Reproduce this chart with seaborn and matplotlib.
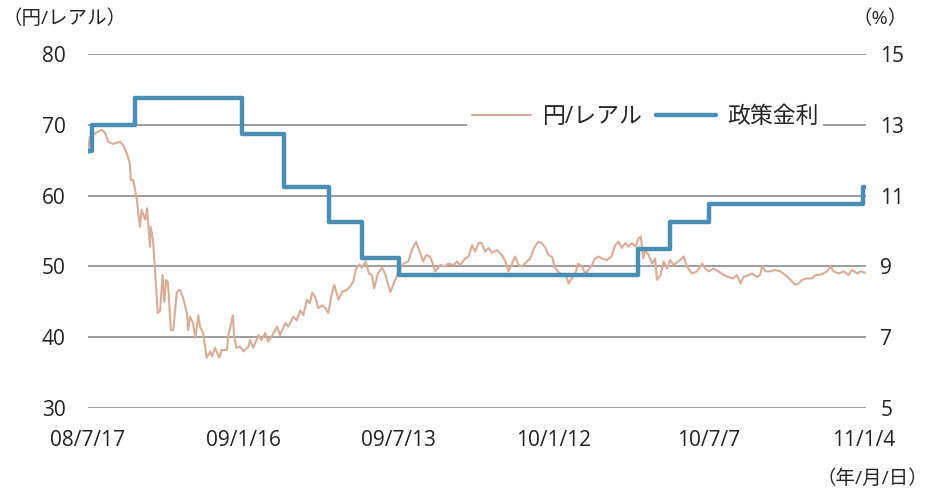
import matplotlib.pyplot as plt
import pandas as pd
import seaborn as sns

# yen / real, x is week number counted from 2008-07-17
yen_week = [
    0.0, 0.3, 1.2, 2.3, 2.9, 3.4, 4.2, 5.4, 5.9, 6.5, 7.0, 7.2, 7.6, 7.9, 8.2,
    8.7, 9.0, 9.6, 9.9, 10.4, 10.5, 10.9, 11.2, 11.7, 12.1, 12.5, 12.8, 13.1,
    13.4, 13.9, 14.3, 14.9, 15.4, 15.9, 16.6, 16.8, 17.1, 17.6, 18.0, 18.5,
    18.8, 19.3, 19.9, 20.5, 20.8, 21.3, 22.0, 22.4, 23.3, 23.5, 24.3, 24.5,
    24.9, 25.5, 26.1, 26.9, 27.2, 27.7, 28.6, 29.1, 29.7, 30.2, 30.8, 31.7,
    32.2, 33.1, 33.6, 34.4, 35.0, 35.6, 36.1, 36.7, 37.2, 37.6, 38.1, 38.6,
    39.3, 39.8, 40.3, 40.9, 41.3, 42.0, 42.6, 43.4, 44.0, 44.5, 44.9, 45.5,
    45.9, 46.6, 47.1, 47.6, 48.0, 48.6, 49.3, 49.8, 50.7, 51.5, 52.3, 52.9,
    53.7, 54.3, 55.0, 55.6, 56.2, 56.7, 57.3, 57.7, 58.2, 59.1, 59.9, 60.4,
    61.3, 61.9, 62.4, 63.2, 63.8, 64.4, 64.9, 65.5, 66.0, 66.6, 67.2, 67.7,
    68.6, 69.4, 70.0, 70.5, 71.1, 71.6, 72.2, 72.8, 73.6, 74.1, 74.8, 75.5,
    76.1, 76.7, 77.2, 77.8, 78.3, 78.9, 79.5, 80.0, 80.6, 81.1, 81.7, 82.2,
    82.8, 83.4, 83.9, 84.5, 85.0, 85.6, 86.2, 87.0, 87.8, 88.4, 89.0, 89.5,
    90.1, 90.6, 91.2, 91.8, 92.3, 92.7, 93.1, 93.4, 94.0, 94.6, 95.1, 95.4,
    96.0, 96.5, 97.1, 97.6, 98.2, 99.0, 99.9, 100.4, 101.3, 102.1, 103.0,
    103.5, 104.1, 104.9, 105.7, 106.6, 107.4, 108.2, 108.8, 109.4, 109.9,
    110.8, 111.3, 112.2, 112.7, 113.0, 113.6, 114.4, 115.2, 116.1, 116.9,
    117.8, 118.6, 119.2, 119.7, 120.6, 121.4, 122.0, 122.5, 123.3, 123.9,
    124.5, 125.0, 125.9, 126.7, 127.5, 128.1, 129.0, 129.5, 130.3,
]
yen_rate = [
    66.0, 68.3, 68.8, 69.3, 68.8, 67.6, 67.3, 67.6, 67.1, 66.0, 64.6, 62.2,
    62.2, 60.8, 59.4, 55.6, 58.0, 56.6, 58.2, 52.8, 55.6, 53.7, 50.0, 43.4,
    43.8, 48.8, 45.0, 48.1, 47.8, 41.0, 41.0, 46.4, 46.7, 45.7, 43.4, 41.0,
    42.9, 42.0, 39.9, 43.1, 41.5, 40.6, 37.1, 38.0, 37.3, 38.5, 37.1, 38.2,
    38.2, 40.1, 43.1, 40.1, 38.5, 38.7, 38.0, 38.7, 39.6, 38.5, 40.3, 39.6,
    40.6, 39.4, 40.1, 41.5, 40.3, 42.0, 41.5, 42.9, 42.4, 43.8, 43.1, 45.3,
    44.8, 46.3, 45.7, 44.1, 44.5, 44.1, 43.4, 46.2, 47.4, 45.3, 46.4, 46.7,
    47.2, 47.9, 49.6, 50.3, 49.8, 50.7, 49.0, 48.8, 46.9, 49.0, 49.8, 49.0,
    46.4, 48.1, 49.7, 50.4, 50.7, 52.3, 53.5, 52.1, 50.7, 51.6, 51.4, 50.7,
    49.3, 50.2, 50.0, 50.4, 50.2, 50.7, 50.2, 51.1, 51.4, 53.0, 52.1, 53.3,
    53.3, 52.1, 52.6, 51.9, 52.3, 51.6, 50.7, 49.3, 50.4, 51.4, 50.2, 50.0,
    50.7, 51.1, 52.6, 53.5, 53.3, 52.6, 51.6, 51.4, 49.8, 49.2, 48.8, 49.0,
    47.6, 48.3, 49.0, 50.4, 50.0, 49.0, 49.5, 50.2, 51.1, 51.4, 51.1, 50.9,
    51.4, 53.0, 53.5, 52.6, 53.3, 52.8, 53.3, 52.8, 54.0, 54.2, 51.1, 52.3,
    51.6, 50.4, 51.1, 48.1, 48.8, 50.7, 49.7, 50.9, 50.2, 50.7, 51.4, 50.0,
    49.0, 49.3, 50.4, 49.7, 49.3, 49.7, 49.3, 48.8, 48.5, 48.3, 48.8, 47.6,
    48.5, 48.8, 49.0, 48.5, 48.8, 50.0, 49.3, 49.3, 49.5, 49.3, 48.8, 48.1,
    47.4, 47.6, 48.1, 48.3, 48.3, 48.8, 48.8, 49.0, 49.3, 50.0, 49.3, 49.0,
    49.3, 48.8, 49.5, 49.0, 49.3, 49.1,
]

# policy rate (Selic), week of change and new level
policy_week = [0.0, 0.6, 7.9, 25.9, 32.9, 40.4, 45.9, 52.1, 92.3, 97.6, 104.1, 130.0, 130.3]
policy_rate = [12.25, 13.0, 13.75, 12.75, 11.25, 10.25, 9.25, 8.75, 9.5, 10.25, 10.75, 11.25, 11.25]

tick_weeks = [0, 26, 52, 78, 104, 130]
tick_labels = ["08/7/17", "09/1/16", "09/7/13", "10/1/12", "10/7/7", "11/1/4"]

yen_color = "#D8AD98"
policy_color = "#4A8FB3"

sns.set_style("white")
plt.rcParams["font.family"] = ["Open Sans", "Noto Sans CJK JP", "DejaVu Sans"]

yen_df = pd.DataFrame({"week": yen_week, "rate": yen_rate})
policy_df = pd.DataFrame({"week": policy_week, "rate": policy_rate})

fig = plt.figure(figsize=(9.31, 4.91), dpi=100)
ax = fig.add_axes([0.0945, 0.169, 0.836, 0.721])
ax2 = ax.twinx()

sns.lineplot(data=yen_df, x="week", y="rate", ax=ax, color=yen_color,
             linewidth=1.5, label="円/レアル", legend=False)
sns.lineplot(data=policy_df, x="week", y="rate", ax=ax2, color=policy_color,
             linewidth=3.2, drawstyle="steps-post", label="政策金利", legend=False)

ax.set_xlim(0, 130.5)
ax.set_ylim(30, 80)
ax.set_yticks(range(30, 81, 10))
ax2.set_ylim(5, 15)
ax2.set_yticks(range(5, 16, 2))
ax.set_xticks(tick_weeks)
ax.set_xticklabels(tick_labels)
ax.set_xlabel("")
ax.set_ylabel("")
ax2.set_ylabel("")

ax.grid(axis="y", color="#8c8c8c", linewidth=1.2)
ax.grid(axis="x", visible=False)
for a in (ax, ax2):
    for s in a.spines.values():
        s.set_visible(False)
    a.tick_params(length=0, labelsize=15, colors="#222222")
ax.tick_params(axis="y", pad=16)
ax.tick_params(axis="x", pad=16)
ax2.tick_params(axis="y", pad=10)

fig.text(0.003, 0.962, "（円/レアル）", fontsize=14, ha="left", va="center")
fig.text(0.975, 0.962, "（%）", fontsize=14, ha="right", va="center")
fig.text(0.997, 0.025, "（年/月/日）", fontsize=14, ha="right", va="center")

handles = ax.get_lines() + ax2.get_lines()
leg = ax2.legend(handles=handles, labels=["円/レアル", "政策金利"], ncol=2,
                 loc="center", bbox_to_anchor=(0.716, 0.822), fontsize=16.5,
                 frameon=True, facecolor="white", edgecolor="none",
                 framealpha=1, fancybox=False, handlelength=2.6,
                 columnspacing=0.6, handletextpad=0.5, borderpad=0.2)

fig.savefig("out.png", dpi=100)
